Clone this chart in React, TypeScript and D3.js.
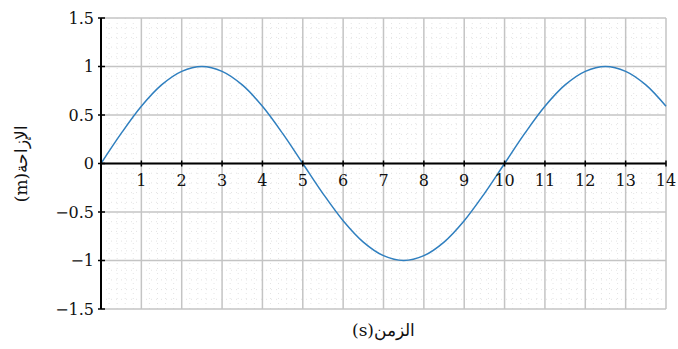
import React from "react";
import * as d3 from "d3";

// Displacement samples (s, m)
const times = [0, 0.5, 1, 1.5, 2, 2.5, 3, 3.5, 4, 4.5, 5, 5.5, 6, 6.5, 7, 7.5, 8, 8.5, 9, 9.5, 10, 10.5, 11, 11.5, 12, 12.5, 13, 13.5, 14];
const displacement = [0, 0.31, 0.59, 0.81, 0.95, 1, 0.95, 0.81, 0.59, 0.31, 0, -0.31, -0.59, -0.81, -0.95, -1, -0.95, -0.81, -0.59, -0.31, 0, 0.31, 0.59, 0.81, 0.95, 1, 0.95, 0.81, 0.59];

const xTicks = [1, 2, 3, 4, 5, 6, 7, 8, 9, 10, 11, 12, 13, 14];
const yTicks = [-1.5, -1, -0.5, 0, 0.5, 1, 1.5];
const xTitle = "الزمن(s)";
const yTitle = "الإزاحة(m)";

const W = 678;
const H = 349;
const M = { left: 101, right: 12, top: 18, bottom: 40 };

export default function App() {
  const x = d3.scaleLinear().domain([0, 14]).range([M.left, W - M.right]);
  const y = d3.scaleLinear().domain([-1.5, 1.5]).range([H - M.bottom, M.top]);

  const pts = times.map((t, i) => [t, displacement[i]] as [number, number]);
  const line = d3
    .line<[number, number]>()
    .x((d) => x(d[0]))
    .y((d) => y(d[1]))
    .curve(d3.curveCatmullRom.alpha(0.5));

  const minorX = d3.range(0, 14.001, 0.2).filter((v) => Math.abs(v - Math.round(v)) > 1e-6);
  const minorY = d3.range(-1.5, 1.5001, 0.1).filter((v) => Math.abs(v * 2 - Math.round(v * 2)) > 1e-6);
  const fmt = (v: number) => (v < 0 ? "\u2212" + String(Math.abs(v)) : String(v));
  const font = "'DejaVu Serif', 'Liberation Serif', serif";

  return (
    <svg width={W} height={H} style={{ position: "absolute", left: 0, top: 0, background: "#fff" }}>
      {/* minor grid */}
      <g stroke="#e4e4e4" strokeWidth={1} strokeDasharray="1,4">
        {minorX.map((v) => (
          <line key={"mx" + v} x1={x(v)} x2={x(v)} y1={y(1.5)} y2={y(-1.5)} />
        ))}
        {minorY.map((v) => (
          <line key={"my" + v} x1={x(0)} x2={x(14)} y1={y(v)} y2={y(v)} />
        ))}
      </g>
      {/* major grid */}
      <g stroke="#c4c4c4" strokeWidth={1.5}>
        {d3.range(1, 15).map((v) => (
          <line key={"gx" + v} x1={x(v)} x2={x(v)} y1={y(1.5)} y2={y(-1.5)} />
        ))}
        {yTicks.map((v) => (
          <line key={"gy" + v} x1={x(0)} x2={x(14)} y1={y(v)} y2={y(v)} />
        ))}
      </g>
      {/* curve */}
      <path d={line(pts) || ""} fill="none" stroke="#2f7fbf" strokeWidth={1.5} />
      {/* axes */}
      <g stroke="#000">
        <line x1={x(0)} x2={x(14)} y1={y(0)} y2={y(0)} strokeWidth={2} />
        <line x1={x(0)} x2={x(0)} y1={y(1.5)} y2={y(-1.5)} strokeWidth={2} />
        {xTicks.map((v) => (
          <line key={"tx" + v} x1={x(v)} x2={x(v)} y1={y(0) - 3} y2={y(0) + 3} strokeWidth={1.5} />
        ))}
        {yTicks.map((v) => (
          <line key={"ty" + v} x1={x(0) - 3} x2={x(0) + 4} y1={y(v)} y2={y(v)} strokeWidth={1.5} />
        ))}
      </g>
      <g fontFamily={font} fontSize={16} fill="#111">
        {xTicks.map((v) => (
          <text key={"lx" + v} x={x(v)} y={y(0) + 22} textAnchor="middle">
            {v}
          </text>
        ))}
        {yTicks.map((v) => (
          <text key={"ly" + v} x={x(0) - 7} y={y(v) + 5.5} textAnchor="end">
            {fmt(v)}
          </text>
        ))}
      </g>
      <text
        x={(x(0) + x(14)) / 2}
        y={336}
        textAnchor="middle"
        direction="rtl"
        fontFamily={font}
        fontSize={17}
        fill="#111"
      >
        {xTitle}
      </text>
      <text
        transform={`translate(27, ${y(0)}) rotate(-90)`}
        textAnchor="middle"
        direction="rtl"
        fontFamily={font}
        fontSize={17}
        fill="#111"
      >
        {yTitle}
      </text>
    </svg>
  );
}
